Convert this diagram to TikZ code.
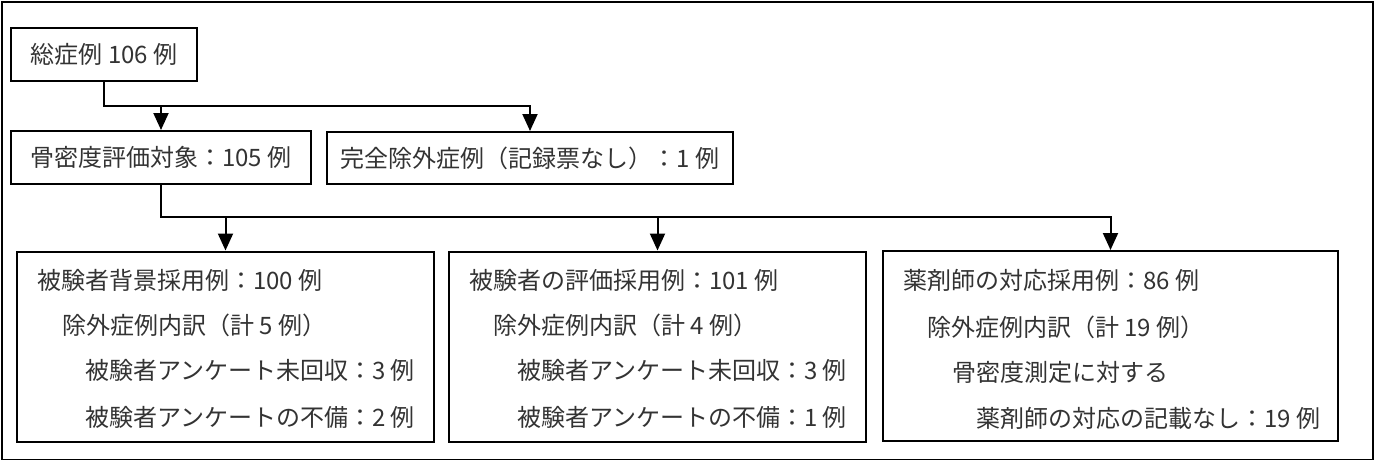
\documentclass[tikz,border=0pt]{standalone}
\usepackage{fontspec}
\newfontfamily\jp{Noto Sans CJK JP}
\usetikzlibrary{arrows.meta}
\begin{document}
\begin{tikzpicture}[x=1pt,y=-1pt,
  box/.style={draw, line width=2pt, inner sep=0pt, font=\jp\fontsize{24}{28}\selectfont, text=black!80},
  txt/.style={anchor=west, inner sep=0pt, font=\jp\fontsize{24}{28}\selectfont, text=black!80},
  arr/.style={line width=2pt, -{Triangle[length=17pt,width=15pt]}}]
\useasboundingbox (0,0) rectangle (1377,460);
\node[draw, line width=1.8pt, minimum width=1371pt, minimum height=458pt, anchor=north west, inner sep=0pt] (frame) at (0.9,0.9) {};
% top boxes
\node[box, minimum width=186pt, minimum height=53pt] (b1) at (104,54.5) {総症例 106 例};
\node[box, minimum width=300pt, minimum height=53pt] (b2) at (161,157.5) {骨密度評価対象：105 例};
\node[box, minimum width=406pt, minimum height=52pt] (b3) at (530,158) {完全除外症例（記録票なし）：1 例};
% bottom boxes
\node[box, minimum width=417pt, minimum height=190pt] (b4) at (225.5,346.5) {};
\node[box, minimum width=417pt, minimum height=190pt] (b5) at (657.5,346.5) {};
\node[box, minimum width=455pt, minimum height=190pt] (b6) at (1110.5,346) {};
% texts of box 4
\node[txt] (t41) at (37,280) {被験者背景採用例：100 例};
\node[txt] (t42) at (62,325) {除外症例内訳（計 5 例）};
\node[txt] (t43) at (85,370) {被験者アンケート未回収：3 例};
\node[txt] (t44) at (85,417) {被験者アンケートの不備：2 例};
% texts of box 5
\node[txt] (t51) at (469,280) {被験者の評価採用例：101 例};
\node[txt] (t52) at (493,325) {除外症例内訳（計 4 例）};
\node[txt] (t53) at (517,370) {被験者アンケート未回収：3 例};
\node[txt] (t54) at (517,417) {被験者アンケートの不備：1 例};
% texts of box 6
\node[txt] (t61) at (903,280) {薬剤師の対応採用例：86 例};
\node[txt] (t62) at (927,327) {除外症例内訳（計 19 例）};
\node[txt] (t63) at (952,372) {骨密度測定に対する};
\node[txt] (t64) at (976,418) {薬剤師の対応の記載なし：19 例};
% connectors
\coordinate (j1) at (104,106);
\coordinate (j2) at (161,217);
\draw[arr] (b1.south) -- (j1) -| (b3.north);
\draw[arr] (j1 -| b2.north) -- (b2.north);
\draw[arr] (b2.south) -- (j2) -| (b6.north);
\draw[arr] (j2 -| b4.north) -- (b4.north);
\draw[arr] (j2 -| b5.north) -- (b5.north);
\end{tikzpicture}
\end{document}
